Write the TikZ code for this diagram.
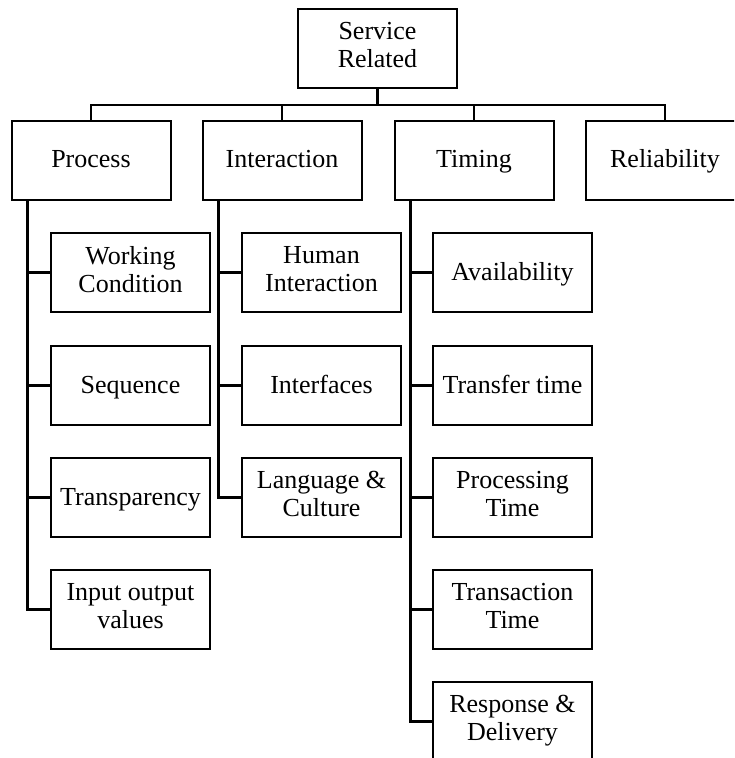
\documentclass[tikz,border=0pt]{standalone}
\usepackage{fontspec}
\setmainfont{Liberation Serif}
% strut used at the first and last line of every box label
\newcommand{\boxstrut}{\rule[-6.5pt]{0pt}{28pt}}
\begin{document}
\begin{tikzpicture}[x=1pt,y=-1pt,
  box/.style={draw, line width=2pt, minimum width=159pt, minimum height=79pt,
    inner sep=0pt, align=center, font=\fontsize{26}{28}\selectfont,
    execute at begin node=\boxstrut, execute at end node=\boxstrut},
  link/.style={line width=2.3pt}]
\useasboundingbox (0,0) rectangle (734,758);
\clip (0,0) rectangle (734,758);

% root
\node[box] (root) at (377.5,48.5) {Service\\Related};

% first level
\node[box] (proc)  at (91,160)  {Process};
\node[box] (inter) at (282,160) {Interaction};
\node[box] (tim)   at (474,160) {Timing};
\node[box] (rel)   at (665,160) {Reliability};

% bus line under the root
\coordinate (bus) at (0,105);
\foreach \n in {proc,inter,tim,rel}
  \draw[link] (root.south) -- (root.south |- bus) -| (\n.north);

% process children
\node[box] (wc)  at (130.5,272.5) {Working\\Condition};
\node[box] (seq) at (130.5,385.5) {Sequence};
\node[box] (tra) at (130.5,497.5) {Transparency};
\node[box] (iov) at (130.5,609.5) {Input output\\values};

% interaction children
\node[box] (hi)  at (321.5,272.5) {Human\\Interaction};
\node[box] (ifc) at (321.5,385.5) {Interfaces};
\node[box] (lc)  at (321.5,497.5) {Language \&\\Culture};

% timing children
\node[box] (av)  at (512.5,272.5) {Availability};
\node[box] (tt)  at (512.5,385.5) {Transfer time};
\node[box] (pt)  at (512.5,497.5) {Processing\\Time};
\node[box] (trt) at (512.5,609.5) {Transaction\\Time};
\node[box] (rd)  at (512.5,721.5) {Response \&\\Delivery};

% trunks with side branches
\foreach \c in {wc,seq,tra,iov}
  \draw[link] ([xshift=17pt]proc.south west) |- (\c.west);
\foreach \c in {hi,ifc,lc}
  \draw[link] ([xshift=17pt]inter.south west) |- (\c.west);
\foreach \c in {av,tt,pt,trt,rd}
  \draw[link] ([xshift=17pt]tim.south west) |- (\c.west);
\end{tikzpicture}
\end{document}
